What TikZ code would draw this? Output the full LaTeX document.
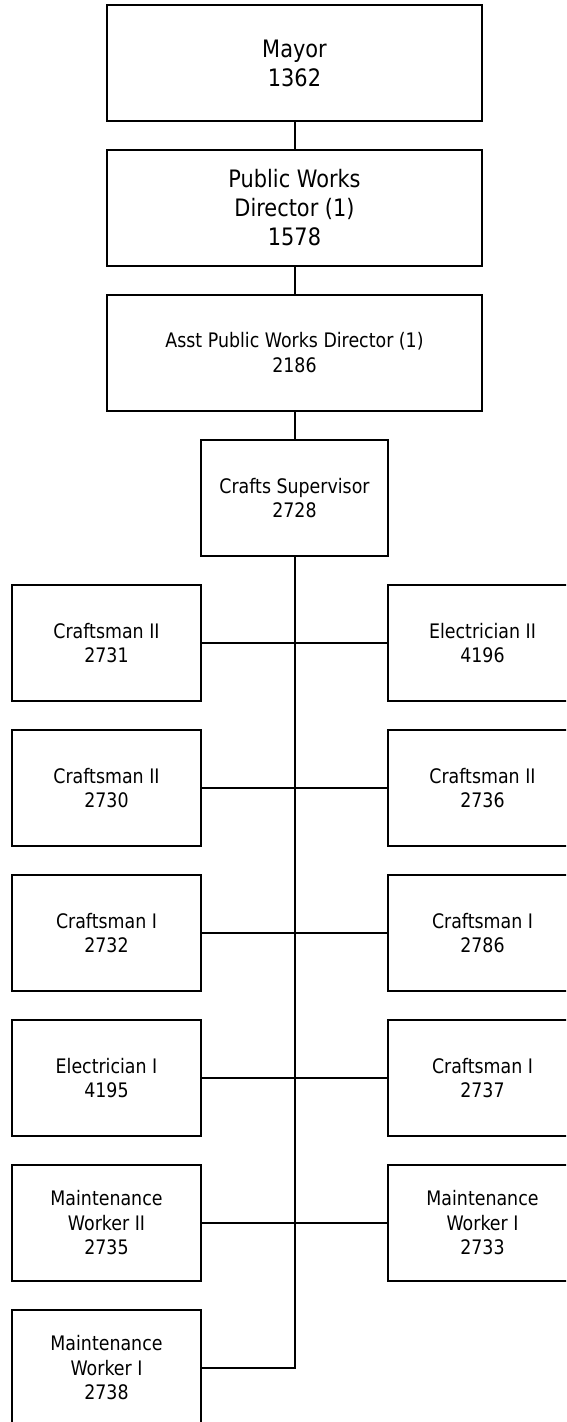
\documentclass[tikz,border=0pt]{standalone}
\usepackage{fontspec}
\setmainfont{DejaVu Sans}[FakeStretch=0.87]
\begin{document}
\begin{tikzpicture}[x=1pt,y=1pt,
  box/.style={draw,line width=2pt,rectangle,inner sep=0pt,align=center,
    minimum width=189pt,minimum height=116pt,text=black},
  wide/.style={box,minimum width=375pt},
  big/.style={font=\fontsize{24}{29}\selectfont},
  small/.style={font=\fontsize{20}{24.5}\selectfont},
  conn/.style={line width=2pt}]
\useasboundingbox (0,0) rectangle (566,-1422);
\clip (0,0) rectangle (566,-1422);
\node[wide,big]   (mayor) at (294.5,-63)   {Mayor\\1362};
\node[wide,big]   (pw)    at (294.5,-208)  {Public Works\\Director (1)\\1578};
\node[wide,small] (asst)  at (294.5,-352.5){Asst Public Works Director (1)\\2186};
\node[box,small,minimum width=187pt] (cs) at (294.5,-498) {Crafts Supervisor\\2728};
% left column
\node[box,small] (l1) at (106.5,-643)  {Craftsman II\\2731};
\node[box,small] (l2) at (106.5,-788)  {Craftsman II\\2730};
\node[box,small] (l3) at (106.5,-933)  {Craftsman I\\2732};
\node[box,small] (l4) at (106.5,-1078) {Electrician I\\4195};
\node[box,small] (l5) at (106.5,-1223) {Maintenance\\Worker II\\2735};
\node[box,small] (l6) at (106.5,-1368) {Maintenance\\Worker I\\2738};
% right column
\node[box,small] (r1) at (482.5,-643)  {Electrician II\\4196};
\node[box,small] (r2) at (482.5,-788)  {Craftsman II\\2736};
\node[box,small] (r3) at (482.5,-933)  {Craftsman I\\2786};
\node[box,small] (r4) at (482.5,-1078) {Craftsman I\\2737};
\node[box,small] (r5) at (482.5,-1223) {Maintenance\\Worker I\\2733};
% connectors
\draw[conn] (mayor) -- (pw);
\draw[conn] (pw) -- (asst);
\draw[conn] (asst) -- (cs);
\coordinate (bend) at (cs.south |- l6.east);
\draw[conn] (cs.south) -- (bend) -- (l6.east);
\draw[conn] (l1.east) -- (r1.west);
\draw[conn] (l2.east) -- (r2.west);
\draw[conn] (l3.east) -- (r3.west);
\draw[conn] (l4.east) -- (r4.west);
\draw[conn] (l5.east) -- (r5.west);
\end{tikzpicture}
\end{document}
